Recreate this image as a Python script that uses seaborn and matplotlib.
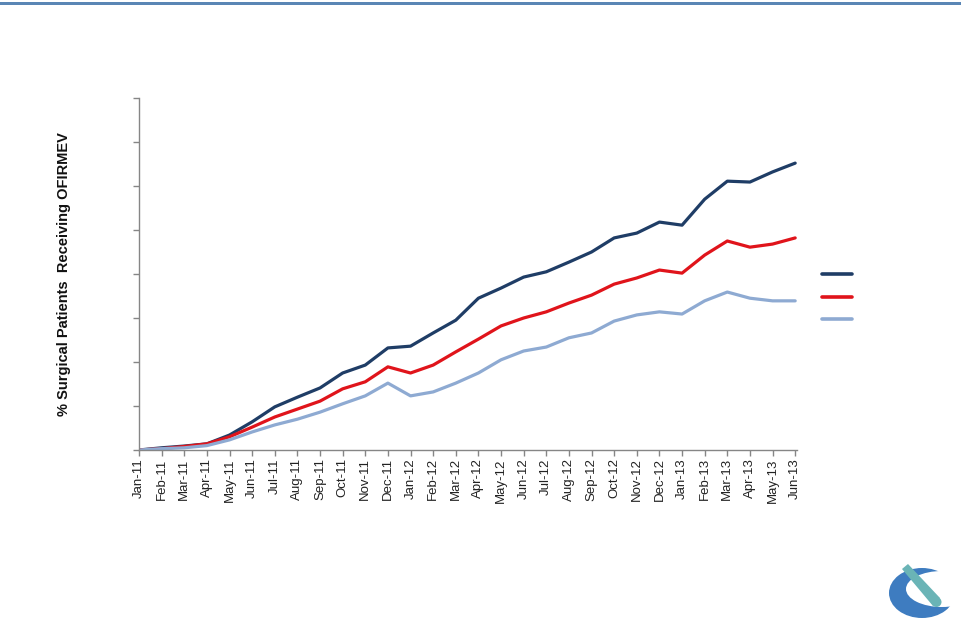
import numpy as np
import pandas as pd
import seaborn as sns
import matplotlib
matplotlib.use("Agg")
import matplotlib.pyplot as plt
from matplotlib.lines import Line2D
from matplotlib.patches import Ellipse, Polygon, Rectangle, Circle

months = ["Jan-11", "Feb-11", "Mar-11", "Apr-11", "May-11", "Jun-11", "Jul-11", "Aug-11",
          "Sep-11", "Oct-11", "Nov-11", "Dec-11", "Jan-12", "Feb-12", "Mar-12", "Apr-12",
          "May-12", "Jun-12", "Jul-12", "Aug-12", "Sep-12", "Oct-12", "Nov-12", "Dec-12",
          "Jan-13", "Feb-13", "Mar-13", "Apr-13", "May-13", "Jun-13"]

series_names = ["Series 1", "Series 2", "Series 3"]

dark_vals = [0.0, 0.5, 0.9, 1.4, 3.4, 6.4, 9.8, 12.0, 14.1, 17.5, 19.3, 23.2, 23.6, 26.6, 29.5,
             34.5, 36.8, 39.3, 40.5, 42.7, 45.0, 48.2, 49.3, 51.8, 51.1, 57.0, 61.1, 60.9, 63.2, 65.2]
red_vals = [0.0, 0.3, 0.8, 1.4, 3.0, 5.2, 7.5, 9.3, 11.1, 13.9, 15.5, 18.9, 17.5, 19.3, 22.3,
            25.2, 28.2, 30.0, 31.4, 33.4, 35.2, 37.7, 39.1, 40.9, 40.2, 44.3, 47.5, 46.1, 46.8, 48.2]
light_vals = [0.0, 0.3, 0.5, 1.0, 2.3, 4.1, 5.7, 7.0, 8.6, 10.5, 12.3, 15.2, 12.3, 13.2, 15.2,
              17.5, 20.5, 22.5, 23.4, 25.5, 26.6, 29.3, 30.7, 31.4, 30.9, 33.9, 35.9, 34.5, 33.9, 33.9]

palette = ["#1F3D66", "#E0141B", "#8EAAD2"]

rows = []
for name, vals in zip(series_names, [dark_vals, red_vals, light_vals]):
    for i, v in enumerate(vals):
        rows.append({"idx": i, "month": months[i], "value": v, "series": name})
df = pd.DataFrame(rows)

sns.set_theme(style="white")
plt.rcParams["font.family"] = ["Liberation Sans", "DejaVu Sans"]

fig = plt.figure(figsize=(9.61, 6.19), dpi=100)

# decoration layer in pixel coordinates
dax = fig.add_axes([0, 0, 1, 1], zorder=-1)
dax.set_xlim(0, 961)
dax.set_ylim(619, 0)
dax.axis("off")
dax.add_patch(Rectangle((0, 1.5), 961, 3, color="#5A86B5", lw=0))
dax.add_patch(Ellipse((922, 593), 66, 50, color="#3E7CC0", lw=0))
dax.add_patch(Ellipse((942, 589), 72, 36, color="white", lw=0))
dax.add_patch(Polygon([(902, 569), (908, 564), (940, 598), (933, 606)],
                      closed=True, color="#6AB4B6", lw=0))
dax.add_patch(Circle((936.5, 602), 5, color="#6AB4B6", lw=0))

ax = fig.add_axes([139 / 961, 1 - 450 / 619, (797 - 139) / 961, (450 - 98) / 619])

sns.lineplot(data=df, x="idx", y="value", hue="series", palette=palette,
             linewidth=2.3, ax=ax, legend=False, sort=False)

ax.set_xlim(0, 29.08)
ax.set_ylim(0, 80)
ax.set_xticks(range(len(months)))
ax.set_xticklabels(months, rotation=90, fontsize=9.5, color="#222222")
ax.set_yticks(np.arange(0, 81, 10))
ax.set_yticklabels([])
ax.set_xlabel("")
ax.set_ylabel("% Surgical Patients  Receiving OFIRMEV", fontsize=10.5, fontweight="bold",
              color="#111111")
ax.yaxis.set_label_coords(-(139 - 71) / 658, 0.5)
for s in ["top", "right"]:
    ax.spines[s].set_visible(False)
for s in ["left", "bottom"]:
    ax.spines[s].set_color("#868686")
    ax.spines[s].set_linewidth(1.0)
ax.tick_params(axis="both", which="both", direction="out", length=4, width=1,
               color="#868686", bottom=True, left=True, pad=2)
ax.grid(False)
ax.patch.set_alpha(0)

handles = [Line2D([0], [0], color=c, lw=2.6) for c in palette]
fig.legend(handles, ["", "", ""], loc="center left",
           bbox_to_anchor=(808 / 961, 1 - 298 / 619), frameon=False,
           handlelength=2.0, labelspacing=0.55, handletextpad=0.2)

fig.savefig("out.png", dpi=100)
